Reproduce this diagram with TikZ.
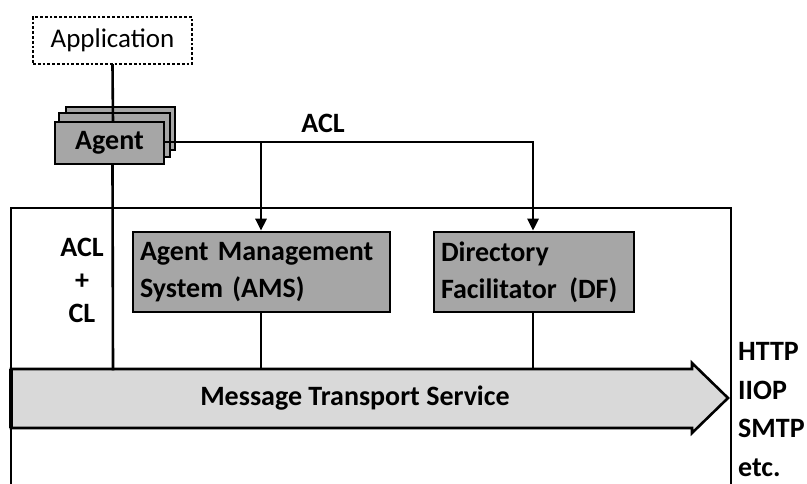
\documentclass[tikz,border=0pt]{standalone}
\usepackage{fontspec}
\setmainfont{Carlito}
\usetikzlibrary{arrows.meta}
\definecolor{boxgray}{HTML}{A6A6A6}
\definecolor{bandgray}{HTML}{D9D9D9}
\tikzset{
  line/.style={line width=2.6pt, line cap=rect},
  arr/.style={line width=2.6pt, -{Triangle[length=12pt,width=11pt]}},
  graybox/.style={draw, line width=2.6pt, fill=boxgray, inner sep=0pt, font=\bfseries\fontsize{28}{37}\selectfont},
  lbl/.style={font=\bfseries\fontsize{28}{37}\selectfont, inner sep=0pt, align=center},
}
\begin{document}
\begin{tikzpicture}[x=1pt,y=-1pt]
\useasboundingbox (0,0) rectangle (807,483);
% application
\node[draw, dotted, line width=2.8pt, minimum width=159pt, minimum height=47pt, inner sep=0pt,
  font=\fontsize{27}{32}\selectfont] (app) at (112.5,40.5) {Application};
% stacked agent boxes
\node[graybox, minimum width=109pt, minimum height=43pt] (agentb) at (120.5,128.5) {};
\node[graybox, minimum width=111pt, minimum height=44pt] (agentm) at (114.5,135) {};
\draw[line] (app.south) -- (113,122);
\node[graybox, minimum width=109pt, minimum height=42pt] (agent) at (109.5,143) {Agent};
% frame
\draw[line, line cap=butt] (11,490) -- (11,208) -- (731,208) -- (731,490);
% AMS and DF
\node[graybox, minimum width=257pt, minimum height=80pt, text width=243pt, align=left] (ams) at (261.5,272) {Agent Management\\System (AMS)};
\node[graybox, minimum width=200pt, minimum height=80pt, text width=186pt, align=left] (df) at (534,272) {Directory\\Facilitator\hspace{0.45em}(DF)};
% message transport service band
\draw[line width=2.6pt, line join=miter, fill=bandgray] (11,369) -- (692,369) -- (692,363) -- (728,398) -- (692,433) -- (692,428) -- (11,428) -- cycle;
\node[lbl] (mts) at (355,398) {Message Transport Service};
\draw[line width=4.5pt] (11,369) -- (11,428);
% connectors
\draw[line] (agent.south -| app.south) -- (113,369);
\draw[line] (agent.east |- 0,142) -- (533,142);
\draw[arr] (261,142) -- (ams.north -| 261,0);
\draw[arr] (533,142) -- (df.north -| 533,0);
\draw[line] (ams.south -| 261,0) -- (261,369);
\draw[line] (df.south -| 533,0) -- (533,369);
% labels
\node[lbl] (acltop) at (323,123) {ACL};
\node[lbl] (aclcl) at (82,280) {ACL\\[-4pt]+\\[-4pt]CL};
\node[lbl, align=left, anchor=north west, font=\bfseries\fontsize{28}{38.7}\selectfont] (proto) at (738,342) {HTTP\\IIOP\\SMTP\\etc.};
\end{tikzpicture}
\end{document}
